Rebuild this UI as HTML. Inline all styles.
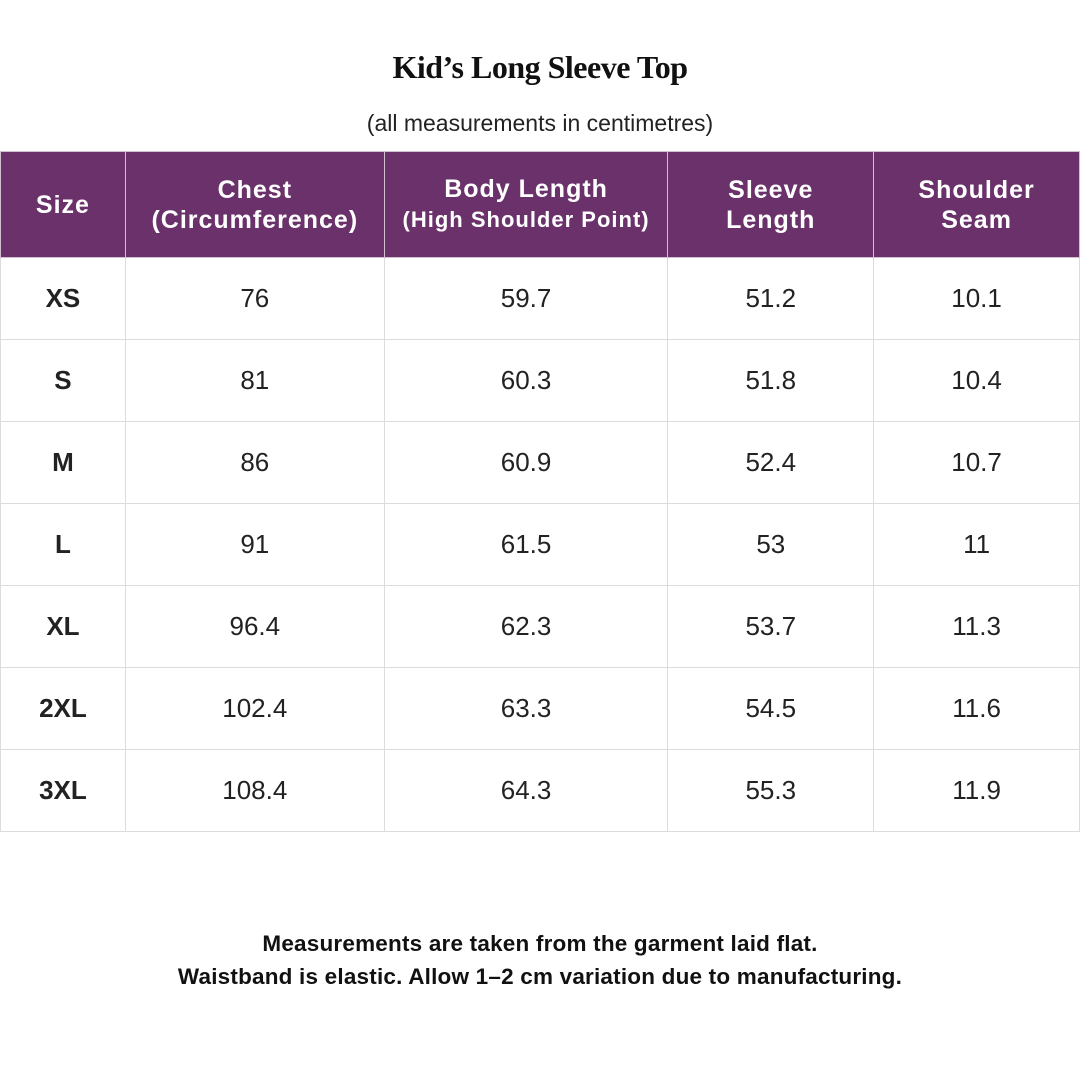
<!DOCTYPE html>
<html><head><meta charset="utf-8"><style>
body{margin:0;width:1080px;height:1080px;background:#fff;position:relative;font-family:"Liberation Sans",sans-serif;color:#222;overflow:hidden}
.t{position:absolute;left:0;width:1080px;text-align:center}
table{position:absolute;left:0;top:151px;border-collapse:collapse;width:1080px}
td,th{border:1px solid #dcdcdc;text-align:center;padding:0}
th{background:#6a316b;color:#fff;height:105px;font-weight:bold;font-size:25px;line-height:30px;letter-spacing:1px;border-color:#d0c0d0}
td{height:81px;font-size:26px;color:#222}
td:first-child{font-weight:bold;font-size:26px}
</style></head><body>
<div class="t" style="top:49px;font-family:'Liberation Serif',serif;font-weight:bold;font-size:32px;letter-spacing:-0.5px;color:#111">Kid’s Long Sleeve Top</div>
<div class="t" style="top:110px;font-size:23px;color:#222">(all measurements in centimetres)</div>
<table>
<colgroup><col style="width:125px"><col style="width:259px"><col style="width:284px"><col style="width:206px"><col style="width:206px"></colgroup>
<tr><th>Size</th><th>Chest<br>(Circumference)</th><th>Body Length<br><span style="font-size:22px">(High Shoulder Point)</span></th><th>Sleeve<br>Length</th><th>Shoulder<br>Seam</th></tr>
<tr><td>XS</td><td>76</td><td>59.7</td><td>51.2</td><td>10.1</td></tr>
<tr><td>S</td><td>81</td><td>60.3</td><td>51.8</td><td>10.4</td></tr>
<tr><td>M</td><td>86</td><td>60.9</td><td>52.4</td><td>10.7</td></tr>
<tr><td>L</td><td>91</td><td>61.5</td><td>53</td><td>11</td></tr>
<tr><td>XL</td><td>96.4</td><td>62.3</td><td>53.7</td><td>11.3</td></tr>
<tr><td>2XL</td><td>102.4</td><td>63.3</td><td>54.5</td><td>11.6</td></tr>
<tr><td>3XL</td><td>108.4</td><td>64.3</td><td>55.3</td><td>11.9</td></tr>
</table>
<div class="t" style="top:927px;font-size:22.5px;font-weight:bold;color:#111;line-height:33px;letter-spacing:0.2px">Measurements are taken from the garment laid flat.<br>Waistband is elastic. Allow 1–2 cm variation due to manufacturing.</div>
</body></html>
